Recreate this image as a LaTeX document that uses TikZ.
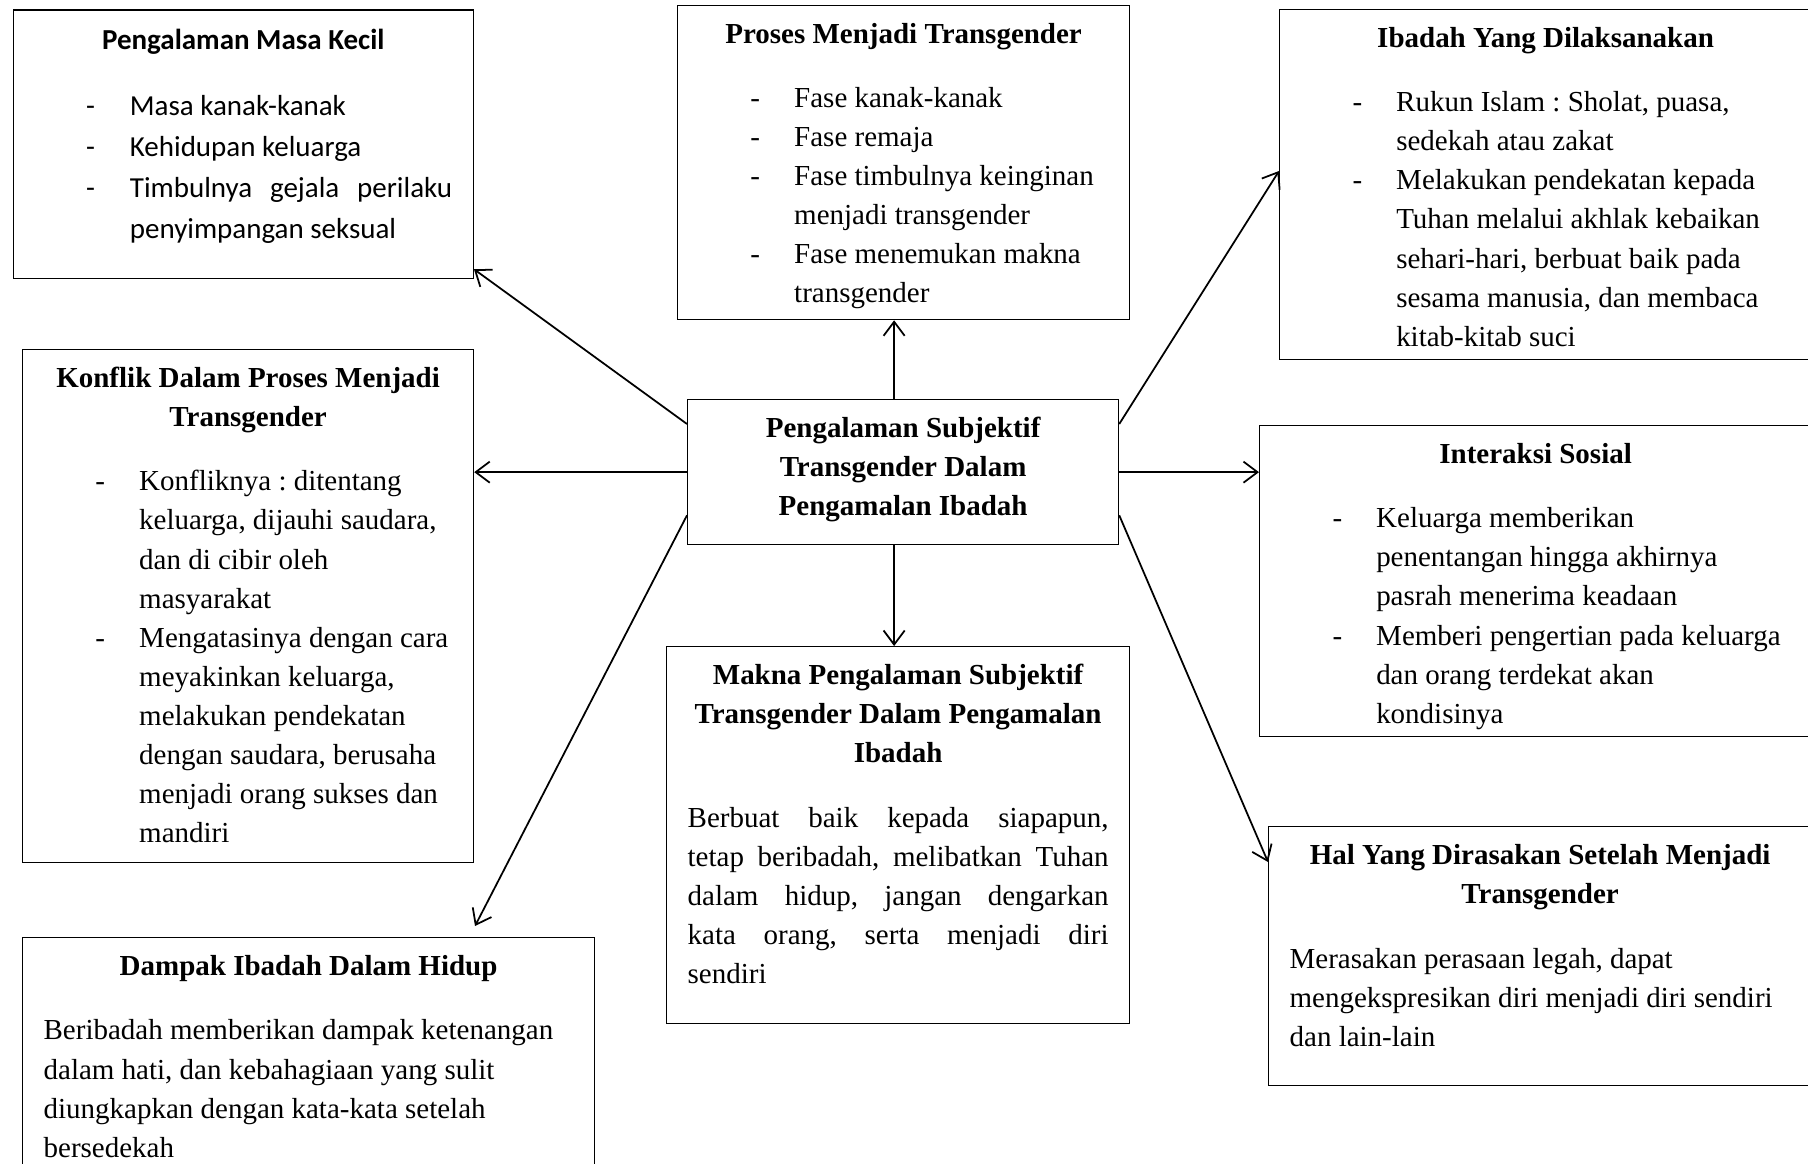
\documentclass[tikz,border=0pt]{standalone}
\usepackage{fontspec}
\setmainfont{Liberation Serif}
\newfontfamily\calibri{Carlito}
\usetikzlibrary{calc,arrows.meta}

\def\tnr{\fontsize{16.5}{22.2}\selectfont\frenchspacing}
\def\atas{\vspace*{6pt}}
\def\jarak{\par\vspace{14.5pt}}
\newcommand{\judul}[1]{{\centering\bfseries\strut #1\par}}
\newcommand{\butir}[1]{\par\hangindent=54.4pt\hangafter=1\noindent\hbox to 54.4pt{\hskip29.5pt-\hfil}#1}

\begin{document}
\begin{tikzpicture}[x=0.02cm, y=-0.02cm,
  kotak/.style={draw, line width=0.75pt, anchor=north west, inner xsep=0.42cm, inner ysep=0pt, font=\tnr},
  panah/.style={-{Straight Barb[length=8pt,width=12pt]}, line width=1pt}]
\useasboundingbox (0,0) rectangle (1808,1163);
\clip (0,0) rectangle (1808,1163);
% Centre
\node[kotak] (pusat) at (687,399) {\parbox[t][2.9cm][t]{7.78cm}{\atas
  \judul{Pengalaman Subjektif\\ Transgender Dalam\\ Pengamalan Ibadah}}};
% Left column
\node[kotak] (kecil) at (12.7,9.2) {\parbox[t][5.374cm][t]{8.36cm}{\calibri\fontsize{16.5}{23.3}\selectfont\atas
  \judul{Pengalaman Masa Kecil}\jarak
  \butir{Masa kanak-kanak}
  \butir{Kehidupan keluarga}
  \butir{Timbulnya gejala perilaku\linebreak penyimpangan seksual}}};
\node[kotak] (konflik) at (22,349) {\parbox[t][10.26cm][t]{8.18cm}{\atas
  \judul{Konflik Dalam Proses Menjadi\\ Transgender}\jarak\raggedright
  \butir{Konfliknya : ditentang\newline keluarga, dijauhi saudara,\newline dan di cibir oleh\newline masyarakat}
  \butir{Mengatasinya dengan cara\newline meyakinkan keluarga,\newline melakukan pendekatan\newline dengan saudara, berusaha\newline menjadi orang sukses dan\newline mandiri}}};
\node[kotak] (dampak) at (22,937) {\parbox[t][5.06cm][t]{10.6cm}{\atas
  \judul{Dampak Ibadah Dalam Hidup}\jarak\raggedright
  Beribadah memberikan dampak ketenangan\newline dalam hati, dan kebahagiaan yang sulit\newline diungkapkan dengan kata-kata setelah\newline bersedekah}};
% Middle column
\node[kotak] (proses) at (677,4.6) {\parbox[t][6.288cm][t]{8.2cm}{\atas
  \judul{Proses Menjadi Transgender}\jarak\raggedright
  \butir{Fase kanak-kanak}
  \butir{Fase remaja}
  \butir{Fase timbulnya keinginan\newline menjadi transgender}
  \butir{Fase menemukan makna\newline transgender}}};
\node[kotak] (makna) at (666,646) {\parbox[t][7.54cm][t]{8.42cm}{\atas
  \judul{Makna Pengalaman Subjektif\\ Transgender Dalam Pengamalan\\ Ibadah}\jarak
  \noindent Berbuat baik kepada siapapun,\linebreak tetap beribadah, melibatkan Tuhan\linebreak dalam hidup, jangan dengarkan\linebreak kata orang, serta menjadi diri\linebreak sendiri}};
% Right column
\node[kotak] (ibadah) at (1279,9) {\parbox[t][7.0cm][t]{9.8cm}{\atas
  \judul{Ibadah Yang Dilaksanakan}\jarak\raggedright
  \butir{Rukun Islam : Sholat, puasa,\newline sedekah atau zakat}
  \butir{Melakukan pendekatan kepada\newline Tuhan melalui akhlak kebaikan\newline sehari-hari, berbuat baik pada\newline sesama manusia, dan membaca\newline kitab-kitab suci}}};
\node[kotak] (interaksi) at (1259,425) {\parbox[t][6.22cm][t]{10.2cm}{\atas
  \judul{Interaksi Sosial}\jarak\raggedright
  \butir{Keluarga memberikan\newline penentangan hingga akhirnya\newline pasrah menerima keadaan}
  \butir{Memberi pengertian pada keluarga\newline dan orang terdekat akan\newline kondisinya}}};
\node[kotak] (hal) at (1268,826) {\parbox[t][5.18cm][t]{10.02cm}{\atas
  \judul{Hal Yang Dirasakan Setelah Menjadi\\ Transgender}\jarak\raggedright
  Merasakan perasaan legah, dapat\newline mengekspresikan diri menjadi diri sendiri\newline dan lain-lain}};
% Arrows out of the centre
\draw[panah] ($(pusat.north west)+(0,25)$) -- ($(kecil.south east)+(0,-10)$);
\draw[panah] ($(pusat.north)+(-9,0)$) coordinate (p1) -- (p1 |- proses.south);
\draw[panah] ($(pusat.north east)+(0,25)$) -- ($(ibadah.north west)+(0,162)$);
\draw[panah] (pusat.west) -- (pusat.west -| konflik.east);
\draw[panah] (pusat.east) -- (pusat.east -| interaksi.west);
\draw[panah] ($(pusat.south)+(-9,0)$) coordinate (p2) -- (p2 |- makna.north);
\draw[panah] ($(pusat.south west)+(0,-30)$) -- ($(dampak.north west)+(453,-11)$);
\draw[panah] ($(pusat.south east)+(0,-30)$) -- ($(hal.north west)+(0,36)$);
\end{tikzpicture}
\end{document}
